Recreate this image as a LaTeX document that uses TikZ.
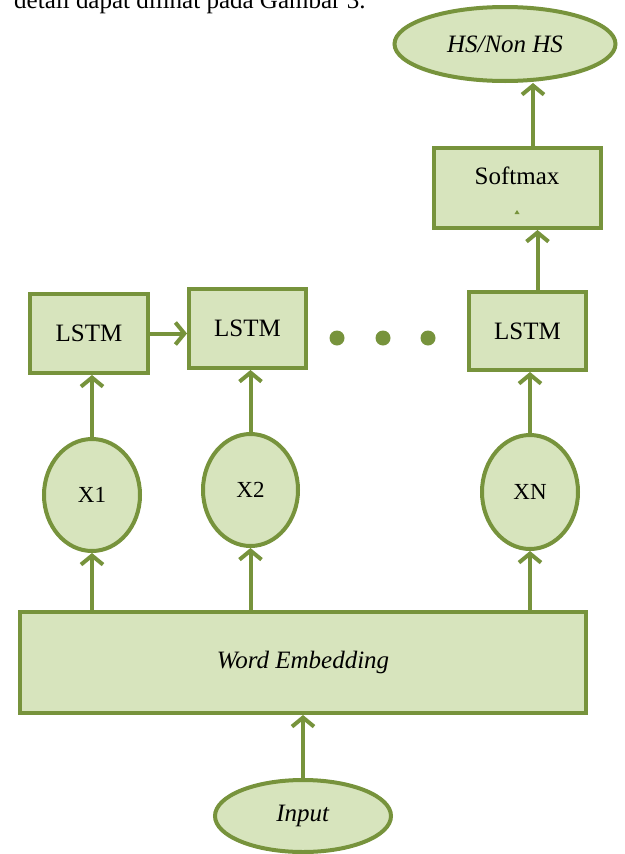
\documentclass[tikz,border=0pt]{standalone}
\usepackage{fontspec}
\setmainfont{Liberation Serif}
\usetikzlibrary{shapes.geometric,arrows.meta}
\definecolor{olive}{HTML}{77933C}
\definecolor{lightolive}{HTML}{D7E4BD}
\tikzset{
  box/.style={draw=olive,fill=lightolive,line width=4pt,inner sep=0pt,font=\fontsize{25}{28}\selectfont},
  oval/.style={ellipse,draw=olive,fill=lightolive,line width=4pt,inner sep=0pt,font=\fontsize{25}{28}\selectfont},
  arr/.style={draw=olive,line width=4pt,-{Straight Barb[length=9pt,width=22pt]}},
  lbl/.style={inner sep=0pt,font=\fontsize{25}{28}\selectfont}
}
\begin{document}
\begin{tikzpicture}[x=1pt,y=-1pt]
\useasboundingbox (0,0) rectangle (624,854);
\node[lbl,anchor=base west] (caption) at (14,8) {detail dapat dilihat pada Gambar 3.};
% top
\node[oval,minimum width=221pt,minimum height=74pt] (HS) at (505,44) {\textit{HS/Non HS}};
\node[box,minimum width=167pt,minimum height=80pt] (SM) at (517.5,188) {};
\node[lbl] (SMl) at (517,176) {Softmax};
\fill[olive] (514.5,214) -- (519.5,214) -- (517,210) -- cycle;
% LSTMs
\node[box,minimum width=118pt,minimum height=79pt] (L1) at (89,333.5) {LSTM};
\node[box,minimum width=117pt,minimum height=79pt] (L2) at (247.5,328.5) {LSTM};
\node[box,minimum width=117pt,minimum height=78pt] (L3) at (527.5,331) {LSTM};
\fill[olive] (337,338) circle (7.5pt) node (d1) {};
\fill[olive] (383,338) circle (7.5pt) node (d2) {};
\fill[olive] (428,338) circle (7.5pt) node (d3) {};
% X ellipses
\node[oval,minimum width=96pt,minimum height=112pt,font=\fontsize{23}{26}\selectfont] (X1) at (92,495) {X1};
\node[oval,minimum width=95pt,minimum height=112pt,font=\fontsize{23}{26}\selectfont] (X2) at (250.5,490) {X2};
\node[oval,minimum width=96pt,minimum height=114pt,font=\fontsize{23}{26}\selectfont] (XN) at (530,492) {XN};
% word embedding
\node[box,minimum width=566pt,minimum height=101pt] (WE) at (303,662.5) {\textit{Word Embedding}};
\node[oval,minimum width=176pt,minimum height=72pt] (IN) at (303,816) {\textit{Input}};
% connectors
\draw[arr] (IN.north) -- (IN.north |- WE.south);
\draw[arr] (X1.south |- WE.north) -- (X1.south);
\draw[arr] (X2.south |- WE.north) -- (X2.south);
\draw[arr] (XN.south |- WE.north) -- (XN.south);
\draw[arr] (X1.north) -- (X1.north |- L1.south);
\draw[arr] (X2.north) -- (X2.north |- L2.south);
\draw[arr] (XN.north) -- (XN.north |- L3.south);
\draw[arr] (L1.east) -- (L1.east -| L2.west);
\draw[arr] ([xshift=10pt]L3.north) -- ([xshift=10pt]L3.north |- SM.south);
\coordinate (hsx) at (533,0);
\draw[arr] (hsx |- SM.north) -- (hsx |- HS.south);
\end{tikzpicture}
\end{document}
